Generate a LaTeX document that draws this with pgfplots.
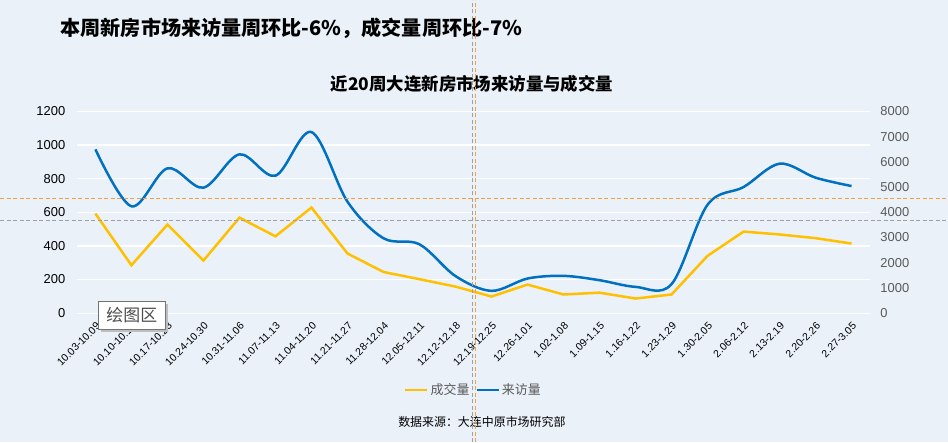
\documentclass[border=0pt]{standalone}
\usepackage{fontspec}
\usepackage{pgfplots}
\pgfplotsset{compat=1.18}
\setmainfont{Liberation Sans}
\newfontfamily\cjk{Noto Sans CJK SC}
\definecolor{bgc}{RGB}{234,241,249}
\definecolor{cy}{RGB}{255,192,0}
\definecolor{cb}{RGB}{0,112,192}
\definecolor{lg}{RGB}{89,89,89}
\definecolor{gor}{RGB}{240,160,60}
\definecolor{ggr}{RGB}{160,160,160}
\begin{document}
\begin{tikzpicture}
\fill[bgc] (0,0) rectangle (948bp,442bp);
\begin{axis}[
  at={(77bp,129bp)}, anchor=south west,
  scale only axis, width=793bp, height=202bp,
  xmin=-0.5, xmax=21.5, ymin=0, ymax=1200,
  ytick={0,200,...,1200},
  xtick={0,...,21},
  xticklabels={10.03-10.09,10.10-10.16,10.17-10.23,10.24-10.30,10.31-11.06,11.07-11.13,11.04-11.20,11.21-11.27,11.28-12.04,12.05-12.11,12.12-12.18,12.19-12.25,12.26-1.01,1.02-1.08,1.09-1.15,1.16-1.22,1.23-1.29,1.30-2.05,2.06-2.12,2.13-2.19,2.20-2.26,2.27-3.05},
  axis y line*=left, axis x line*=bottom,
  axis line style={draw=none},
  tick style={draw=none},
  ymajorgrids, grid style={white, line width=1.2bp},
  /pgf/number format/assume math mode=true,
  /pgf/number format/1000 sep={},
  yticklabel style={font=\fontsize{13}{13}\selectfont, text=black, inner sep=0pt, anchor=east, xshift=-12bp},
  xticklabel style={font=\fontsize{10.5}{10.5}\selectfont, text=black, inner sep=0pt, xshift=3bp, yshift=-11bp, rotate=45, anchor=east},
  clip=false,
]
\addplot[cy, line width=2.5bp] coordinates {
(0,592) (1,285) (2,527) (3,313) (4,568) (5,457) (6,628) (7,355) (8,245) (9,202) (10,158)
(11,99) (12,170) (13,111) (14,122) (15,87) (16,111) (17,341) (18,485) (19,468) (20,446) (21,414)};
\end{axis}
\begin{axis}[
  at={(77bp,129bp)}, anchor=south west,
  scale only axis, width=793bp, height=202bp,
  xmin=-0.5, xmax=21.5, ymin=0, ymax=8000,
  ytick={0,1000,...,8000},
  hide x axis,
  axis y line*=right,
  axis line style={draw=none},
  tick style={draw=none},
  /pgf/number format/assume math mode=true,
  /pgf/number format/1000 sep={},
  yticklabel style={font=\fontsize{13}{13}\selectfont, text=lg, inner sep=0pt, anchor=west, xshift=10.7bp},
  legend columns=2,
  legend style={draw=none, fill=none, at={(0.5,-0.381)}, anchor=center,
    font=\cjk\fontsize{13}{13}\selectfont, text=lg,
    /tikz/every even column/.append style={column sep=4bp}},
  legend image code/.code={\draw[#1] (0bp,0bp) -- (22bp,0bp);},
]
\addlegendimage{cy, line width=2.5bp}
\addlegendentry{成交量}
\addplot[cb, line width=2.5bp, smooth, tension=0.55] coordinates {
(0,6495) (1,4238) (2,5743) (3,4977) (4,6297) (5,5452) (6,7180) (7,4420) (8,2970) (9,2730) (10,1470)
(11,885) (12,1373) (13,1479) (14,1307) (15,1043) (16,1150) (17,4300) (18,5000) (19,5927) (20,5372) (21,5040)};
\addlegendentry{来访量}
\end{axis}
\node[anchor=west, inner sep=0pt] at (60bp,414bp) {\cjk\bfseries\fontsize{20.2}{20.2}\selectfont 本周新房市场来访量周环比-6\%，成交量周环比-7\%};
\node[anchor=center, inner sep=0pt] at (472bp,359bp) {\cjk\bfseries\fontsize{17.5}{17.5}\selectfont 近20周大连新房市场来访量与成交量};
\node[anchor=west, inner sep=0pt] at (398bp,20bp) {\cjk\fontsize{12}{12}\selectfont 数据来源：大连中原市场研究部};
% tooltip
\fill[black!25] (101bp,110bp) rectangle (168bp,138bp);
\filldraw[fill=white, draw=black!55, line width=0.8bp] (98bp,113bp) rectangle (165bp,141bp);
\node[text=black!70, inner sep=0pt] at (131.5bp,127bp) {\cjk\fontsize{17}{17}\selectfont 绘图区};
% guides
\draw[gor, line width=1bp, dash pattern=on 4bp off 2.5bp] (0,243.3bp) -- (948bp,243.3bp);
\draw[ggr, line width=1bp, dash pattern=on 4bp off 2.5bp] (0,221.7bp) -- (948bp,221.7bp);
\draw[ggr, line width=1bp, dash pattern=on 4bp off 2.5bp] (472.3bp,0) -- (472.3bp,442bp);
\draw[gor, line width=1bp, dash pattern=on 4bp off 2.5bp] (475bp,0) -- (475bp,442bp);
\end{tikzpicture}
\end{document}
